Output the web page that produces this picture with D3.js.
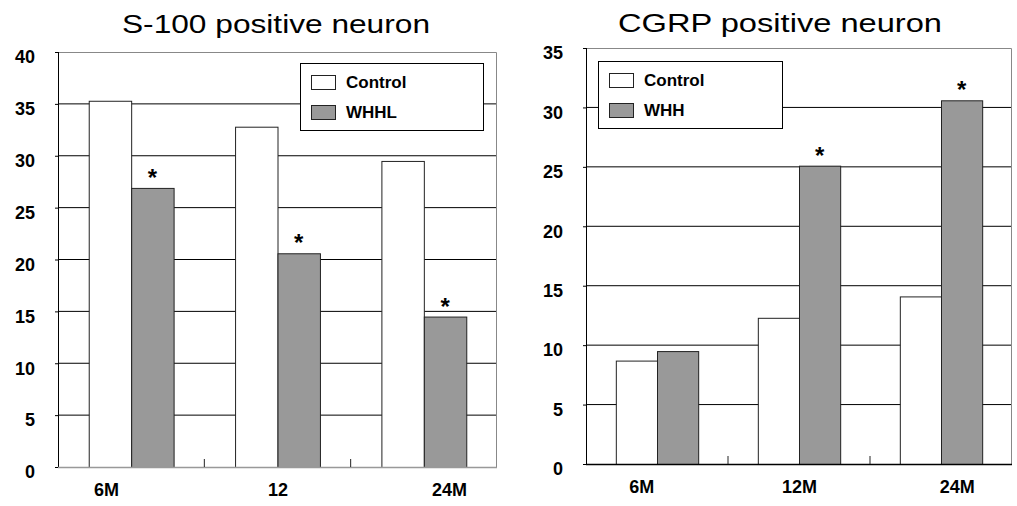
<!DOCTYPE html>
<html>
<head>
<meta charset="utf-8">
<script src="https://cdn.jsdelivr.net/npm/d3@7"></script>
<style>
  body { margin: 0; background: #fff; }
  svg { display: block; font-family: Arial, "Liberation Sans", sans-serif; }
</style>
</head>
<body>
<div id="chart"></div>
<script>
// values
var s100Groups = ["6M", "12", "24M"];
var s100Control = [35.3, 32.8, 29.5];
var s100Whhl = [26.9, 20.6, 14.5];
var s100Star = [true, true, true];
var s100Ticks = [0, 5, 10, 15, 20, 25, 30, 35, 40];

var cgrpGroups = ["6M", "12M", "24M"];
var cgrpControl = [8.7, 12.3, 14.1];
var cgrpWhh = [9.5, 25.1, 30.6];
var cgrpStar = [false, true, true];
var cgrpTicks = [0, 5, 10, 15, 20, 25, 30, 35];

var font = "Arial, 'Liberation Sans', sans-serif";

var svg = d3.select("#chart").append("svg")
  .attr("width", 1017)
  .attr("height", 506);

function boldLabels(sel)
{
  sel.attr("font-family", font).attr("font-size", 18);
  sel.selectAll(".tick text")
    .attr("fill", "#000")
    .style("font-family", font)
    .style("font-weight", "bold")
    .style("font-size", "18px");
}

// one panel: frame, gridlines, bars, stars, legend
function Panel(o)
{
  var width = o.x1 - o.x0;
  var height = o.y1 - o.y0;
  var g = svg.append("g").attr("transform", "translate(" + o.x0 + "," + o.y0 + ")");

  var yS = d3.scaleLinear().domain([0, d3.max(o.ticks)]).range([height, 0]);
  var xS = d3.scaleBand().domain(o.groups).range([0, width])
    .paddingInner(0.42).paddingOuter(0.21);
  var xSub = d3.scaleBand().domain(["c", "t"]).range([0, xS.bandwidth()]);
  var xLab = d3.scalePoint().domain(o.groups).range([0, width]).padding(o.labelPad);

  // gridlines
  g.selectAll(".grid").data(o.ticks.filter(function(d) { return d > 0 && d < d3.max(o.ticks); }))
    .enter().append("line")
      .attr("x1", 0).attr("x2", width)
      .attr("y1", function(d) { return yS(d); })
      .attr("y2", function(d) { return yS(d); })
      .attr("stroke", "#000");

  // top / right border
  g.append("path")
    .attr("d", "M0,0.5H" + (width - 0.5) + "V" + height)
    .attr("fill", "none").attr("stroke", "#888");

  var rows = o.groups.map(function(d, i) {
    return [{g: d, k: "c", v: o.control[i]}, {g: d, k: "t", v: o.treat[i]}];
  });

  g.selectAll(".grp").data(rows).enter().append("g")
    .attr("transform", function(d) { return "translate(" + xS(d[0].g) + ",0)"; })
    .selectAll("rect").data(function(d) { return d; })
    .enter().append("rect")
      .attr("x", function(d) { return xSub(d.k) + 0.5; })
      .attr("width", xSub.bandwidth())
      .attr("y", function(d) { return yS(d.v) + 0.5; })
      .attr("height", function(d) { return height - yS(d.v); })
      .attr("fill", function(d) { return d.k == "c" ? "#fff" : "#999"; })
      .attr("stroke", "#222");

  // significance marks
  g.selectAll(".star").data(o.groups.filter(function(d, i) { return o.star[i]; }))
    .enter().append("text")
      .attr("x", function(d) { return xS(d) + xSub("t") + xSub.bandwidth() / 2; })
      .attr("y", function(d) { return yS(o.treat[o.groups.indexOf(d)]) - 2; })
      .attr("text-anchor", "middle")
      .style("font-weight", "bold").style("font-size", "24px")
      .text("*");

  // y axis
  var yAxis = d3.axisLeft(yS).tickValues(o.ticks).tickSize(3).tickPadding(20);
  var ya = g.append("g").call(yAxis);
  ya.select(".domain").remove();
  ya.selectAll(".tick line").attr("stroke", "#000");
  boldLabels(ya);
  ya.selectAll(".tick text").attr("dy", "0.6em");
  g.append("line").attr("x1", 0.5).attr("x2", 0.5).attr("y1", 0).attr("y2", height).attr("stroke", "#000");

  // x axis: baseline plus category separators
  g.append("line").attr("x1", 0).attr("x2", width).attr("y1", height + 0.5).attr("y2", height + 0.5)
    .attr("stroke", o.baseColor).attr("stroke-width", 1.5);
  g.selectAll(".sep").data(o.groups.slice(1)).enter().append("line")
    .attr("x1", function(d) { return xS(d) - xS.step() * xS.paddingInner() / 2; })
    .attr("x2", function(d) { return xS(d) - xS.step() * xS.paddingInner() / 2; })
    .attr("y1", height).attr("y2", height - 8)
    .attr("stroke", "#222");
  var xa = g.append("g").attr("transform", "translate(0," + height + ")")
    .call(d3.axisBottom(xLab).tickSize(0).tickPadding(16));
  xa.select(".domain").remove();
  boldLabels(xa);

  // title
  svg.append("text")
    .attr("x", o.titleX).attr("y", o.titleY)
    .attr("text-anchor", "middle")
    .attr("textLength", o.titleLen).attr("lengthAdjust", "spacingAndGlyphs")
    .style("font-size", "26px")
    .text(o.title);

  // legend
  var lg = g.append("g").attr("transform", "translate(" + o.legX + "," + o.legY + ")");
  lg.append("rect").attr("x", 0.5).attr("y", 0.5).attr("width", o.legW).attr("height", 67)
    .attr("fill", "#fff").attr("stroke", "#000");
  var items = [{name: "Control", fill: "#fff"}, {name: o.treatName, fill: "#999"}];
  var it = lg.selectAll(".item").data(items).enter().append("g")
    .attr("transform", function(d, i) { return "translate(11," + (12 + i * 30) + ")"; });
  it.append("rect").attr("x", 0.5).attr("y", 0.5).attr("width", 24).attr("height", 14)
    .attr("fill", function(d) { return d.fill; }).attr("stroke", "#222");
  it.append("text").attr("x", 35).attr("y", 7).attr("dy", "0.36em")
    .style("font-weight", "bold").style("font-size", "17px")
    .text(function(d) { return d.name; });
}

Panel({x0: 58, x1: 497, y0: 52, y1: 467, groups: s100Groups, control: s100Control, treat: s100Whhl,
  star: s100Star, ticks: s100Ticks, labelPad: 0.28, baseColor: "#999",
  title: "S-100 positive neuron", titleX: 276, titleY: 33, titleLen: 308,
  treatName: "WHHL", legX: 242, legY: 11, legW: 183});

Panel({x0: 586, x1: 1012, y0: 48, y1: 464, groups: cgrpGroups, control: cgrpControl, treat: cgrpWhh,
  star: cgrpStar, ticks: cgrpTicks, labelPad: 0.35, baseColor: "#000",
  title: "CGRP positive neuron", titleX: 780, titleY: 32, titleLen: 324,
  treatName: "WHH", legX: 12, legY: 13, legW: 184});
</script>
</body>
</html>
